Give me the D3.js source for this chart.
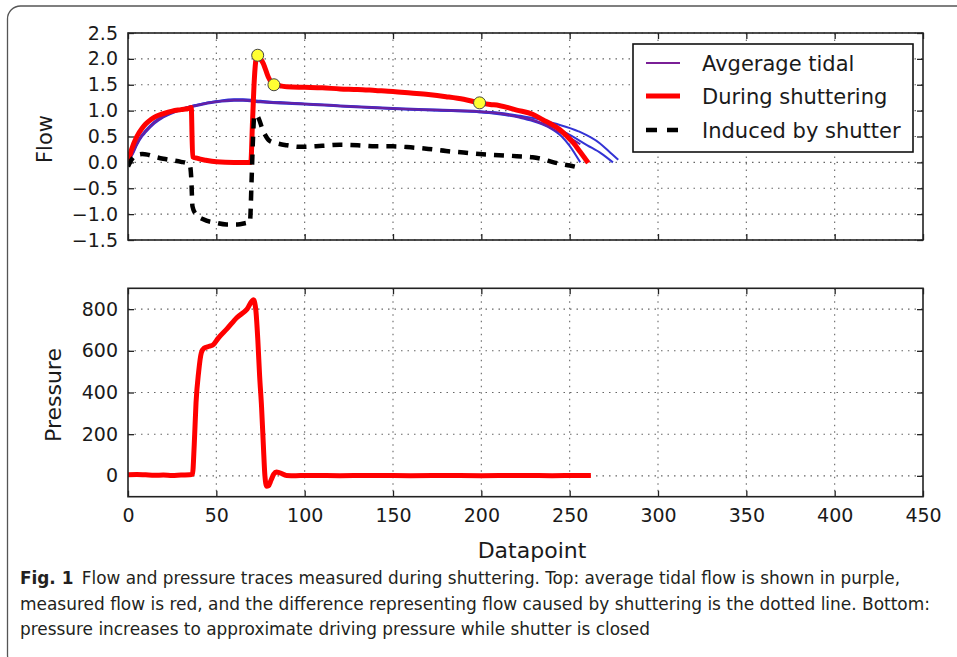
<!DOCTYPE html>
<html>
<head>
<meta charset="utf-8">
<script src="https://cdn.jsdelivr.net/npm/d3@7/dist/d3.min.js"></script>
<style>
  html, body { margin: 0; padding: 0; background: #fff; }
  svg { display: block; }
</style>
</head>
<body>
<svg id="chart" width="957" height="657"></svg>
<script>
// ---------------- DATA ----------------
const xTicks = [0, 50, 100, 150, 200, 250, 300, 350, 400, 450];
const flowTicks = [-1.5, -1.0, -0.5, 0.0, 0.5, 1.0, 1.5, 2.0, 2.5];
const pressureTicks = [0, 200, 400, 600, 800];

const legendLabels = ["Avgerage tidal", "During shuttering", "Induced by shutter"];

// average tidal flow (purple)
const tidalAvg = [[0,0.0],[3,0.2],[5,0.35],[8,0.52],[10,0.6],[15,0.77],[20,0.88],[25,0.96],[30,1.02],[35,1.07],[40,1.11],[50,1.17],[60,1.2],[65,1.2],[75,1.17],[86,1.15],[100,1.13],[120,1.09],[150,1.04],[175,1.01],[199,0.98],[210,0.95],[222,0.87],[229,0.82],[235,0.74],[242,0.62],[250,0.48],[256,0.35]];
// individual tidal breaths (blue)
const tidal1 = [[0,0.0],[3,0.22],[5,0.37],[8,0.54],[10,0.62],[15,0.79],[20,0.9],[25,0.97],[30,1.03],[35,1.08],[40,1.12],[50,1.18],[60,1.21],[65,1.21],[75,1.18],[86,1.16],[100,1.13],[120,1.09],[150,1.04],[175,1.0],[199,0.97],[210,0.93],[222,0.86],[229,0.8],[238,0.68],[245.5,0.5],[250,0.32],[256,0.0]];
const tidal2 = [[0,0.0],[3,0.18],[5,0.33],[8,0.5],[10,0.58],[15,0.75],[20,0.87],[25,0.95],[30,1.01],[35,1.06],[40,1.1],[50,1.16],[60,1.19],[65,1.19],[75,1.16],[86,1.14],[100,1.12],[120,1.08],[150,1.03],[175,1.0],[199,0.97],[210,0.94],[222,0.88],[235,0.75],[248,0.57],[260,0.33],[268,0.17],[274.5,0.0]];
const tidal3 = [[0,0.0],[3,0.21],[5,0.36],[8,0.53],[10,0.61],[15,0.78],[20,0.89],[25,0.97],[30,1.03],[35,1.08],[40,1.12],[50,1.18],[60,1.22],[65,1.22],[75,1.19],[86,1.16],[100,1.14],[120,1.1],[150,1.05],[175,1.02],[199,0.99],[210,0.96],[222,0.9],[232,0.84],[241.7,0.75],[255,0.6],[267,0.37],[272,0.22],[277.5,0.05]];
// measured flow during shuttering (red)
const shutterFlow = [[0,0.0],[2,0.25],[5,0.5],[8,0.66],[10,0.74],[13,0.83],[16,0.89],[20,0.94],[25,0.99],[30,1.02],[35,1.05],[35.8,1.06],[36.6,0.11],[39,0.08],[44,0.04],[50,0.01],[60,0.0],[69.5,0.0],[70.5,0.8],[71.5,1.6],[72.5,2.0],[73.4,2.07],[75,2.0],[76.6,1.91],[79.4,1.65],[82.6,1.5],[86,1.48],[90,1.46],[100,1.45],[110,1.44],[120,1.42],[130,1.41],[140,1.39],[150,1.37],[160,1.34],[170,1.31],[180,1.27],[190,1.22],[199,1.15],[205,1.12],[210,1.1],[220,1.01],[229,0.93],[235,0.82],[240,0.73],[244.5,0.63],[248,0.52],[252,0.38],[256,0.2],[260.5,-0.01]];
// difference: flow induced by the shutter (black dashed)
const inducedFlow = [[0,-0.08],[2,0.05],[5,0.14],[8,0.16],[11,0.15],[15,0.11],[20,0.07],[25,0.04],[30,0.01],[33,-0.01],[35,-0.05],[35.8,-0.3],[36.5,-0.85],[38,-0.98],[42.6,-1.1],[50,-1.17],[55.8,-1.2],[62,-1.2],[67.2,-1.17],[69,-1.16],[70,-0.3],[70.8,0.5],[71.5,0.91],[73,0.9],[76.7,0.59],[80,0.42],[84.2,0.37],[90,0.33],[97.4,0.3],[110,0.32],[120,0.34],[130,0.33],[140,0.31],[150,0.31],[160,0.29],[170,0.26],[180,0.22],[190,0.19],[199,0.16],[210,0.14],[220,0.12],[229,0.1],[235,0.06],[240,0.01],[245,-0.03],[250,-0.06],[255,-0.1]];
// highlighted points on the shuttering trace
const markerPoints = [[73.4,2.07],[82.6,1.5],[199,1.15]];
// pressure during shuttering
const pressure = [[0,5],[5,7],[10,5],[15,3],[20,4],[25,2],[30,4],[35,5],[36.5,8],[37.5,150],[38.5,350],[40,500],[41.5,590],[43,612],[46,622],[48.3,630],[51,660],[56,705],[61.7,760],[67.4,800],[71,845],[72.3,800],[73.5,650],[74.5,480],[75.6,330],[76.6,150],[77.5,0],[78.5,-50],[79.5,-48],[81,-20],[82.5,8],[84,18],[86,14],[89.7,2],[95,1],[100,2],[120,1],[140,2],[160,1],[180,2],[200,1],[220,2],[240,1],[262,2]];

// ---------------- LAYOUT ----------------
const svg = d3.select("#chart");
const FONT = "'DejaVu Sans', sans-serif";
const X0 = 128, X1 = 923;
const topP = {y0: 33, y1: 240};
const botP = {y0: 288.3, y1: 496.7};

const x = d3.scaleLinear().domain([0, 450]).range([X0, X1]);
const yFlow = d3.scaleLinear().domain([-1.5, 2.5]).range([topP.y1, topP.y0]);
const yP = d3.scaleLinear().domain([-100, 900]).range([botP.y1, botP.y0]);

// outer rounded border
svg.append("rect").attr("x", 7.5).attr("y", 6).attr("width", 1000).attr("height", 662)
  .attr("rx", 13).attr("fill", "none").attr("stroke", "#555").attr("stroke-width", 1.3);

function panel(yScale, yTicks, yFmt, y0, y1, showX, clipId) {
  const g = svg.append("g");
  g.append("g").selectAll("line").data(xTicks.slice(1, -1)).join("line")
    .attr("x1", d => x(d)).attr("x2", d => x(d)).attr("y1", y0).attr("y2", y1)
    .attr("stroke", "#666").attr("stroke-width", 1.1).attr("stroke-dasharray", "1.5,5");
  g.append("g").selectAll("line").data(yTicks).join("line")
    .attr("x1", X0).attr("x2", X1).attr("y1", d => yScale(d)).attr("y2", d => yScale(d))
    .attr("stroke", "#666").attr("stroke-width", 1.1).attr("stroke-dasharray", "1.5,5");
  const tickLen = 6;
  const axL = g.append("g").attr("transform", `translate(${X0},0)`)
    .call(d3.axisLeft(yScale).tickValues(yTicks).tickFormat(yFmt).tickSizeInner(-tickLen).tickSizeOuter(0).tickPadding(10));
  const axR = g.append("g").attr("transform", `translate(${X1},0)`)
    .call(d3.axisRight(yScale).tickValues(yTicks).tickFormat("").tickSizeInner(-tickLen).tickSizeOuter(0));
  const axT = g.append("g").attr("transform", `translate(0,${y0})`)
    .call(d3.axisTop(x).tickValues(xTicks).tickFormat("").tickSizeInner(-tickLen).tickSizeOuter(0));
  const axB = g.append("g").attr("transform", `translate(0,${y1})`)
    .call(d3.axisBottom(x).tickValues(xTicks).tickFormat(showX ? d3.format("d") : "").tickSizeInner(-tickLen).tickSizeOuter(0).tickPadding(12));
  [axL, axR, axT, axB].forEach(a => {
    a.select(".domain").remove();
    a.selectAll(".tick line").attr("stroke", "#222").attr("stroke-width", 1.3);
    a.selectAll("text").attr("font-family", FONT).attr("font-size", 19).attr("fill", "#1a1a1a");
  });
  svg.append("clipPath").attr("id", clipId).append("rect")
    .attr("x", X0).attr("y", y0).attr("width", X1 - X0).attr("height", y1 - y0);
  return g;
}

function frame(y0, y1) {
  svg.append("rect").attr("x", X0).attr("y", y0).attr("width", X1 - X0).attr("height", y1 - y0)
    .attr("fill", "none").attr("stroke", "#222").attr("stroke-width", 1.6);
}

const minusFmt = d => d3.format(".1f")(d).replace("-", "\u2212");

// ---------- top panel ----------
panel(yFlow, flowTicks, minusFmt, topP.y0, topP.y1, false, "clipTop");
const lineF = d3.line().x(d => x(d[0])).y(d => yFlow(d[1])).curve(d3.curveMonotoneX);
const gTop = svg.append("g").attr("clip-path", "url(#clipTop)");

[tidal1, tidal2, tidal3].forEach(s => {
  gTop.append("path").datum(s).attr("d", lineF).attr("fill", "none")
    .attr("stroke", "#3333d4").attr("stroke-width", 2);
});
gTop.append("path").datum(tidalAvg).attr("d", lineF).attr("fill", "none")
  .attr("stroke", "#6a1fa0").attr("stroke-width", 2);
gTop.append("path").datum(shutterFlow).attr("d", lineF).attr("fill", "none")
  .attr("stroke", "#ff0000").attr("stroke-width", 5).attr("stroke-linejoin", "round");
gTop.append("path").datum(inducedFlow).attr("d", lineF).attr("fill", "none")
  .attr("stroke", "#000").attr("stroke-width", 4.5).attr("stroke-dasharray", "10,8");
gTop.selectAll("circle.m").data(markerPoints).join("circle").attr("class", "m")
  .attr("cx", d => x(d[0])).attr("cy", d => yFlow(d[1])).attr("r", 6)
  .attr("fill", "#ffff33").attr("stroke", "#444").attr("stroke-width", 1);
frame(topP.y0, topP.y1);

// legend
const lg = svg.append("g");
lg.append("rect").attr("x", 633).attr("y", 44).attr("width", 280).attr("height", 108)
  .attr("fill", "#fff").attr("stroke", "#111").attr("stroke-width", 1.6);
const legStyles = [
  {stroke: "#7a1f96", w: 1.8, dash: null},
  {stroke: "#ff0000", w: 5, dash: null},
  {stroke: "#000", w: 4.5, dash: "11,10"}
];
const legY = [63, 96, 130];
legendLabels.forEach((lab, i) => {
  const l = lg.append("line").attr("x1", 646).attr("x2", 680).attr("y1", legY[i]).attr("y2", legY[i])
    .attr("stroke", legStyles[i].stroke).attr("stroke-width", legStyles[i].w);
  if (legStyles[i].dash) l.attr("stroke-dasharray", legStyles[i].dash);
  lg.append("text").attr("x", 702).attr("y", legY[i]).attr("dy", "0.36em")
    .attr("font-family", FONT).attr("font-size", 21).attr("fill", "#1a1a1a").text(lab);
});

// ---------- bottom panel ----------
panel(yP, pressureTicks, d3.format("d"), botP.y0, botP.y1, true, "clipBot");
const lineP = d3.line().x(d => x(d[0])).y(d => yP(d[1])).curve(d3.curveMonotoneX);
svg.append("g").attr("clip-path", "url(#clipBot)").append("path").datum(pressure).attr("d", lineP)
  .attr("fill", "none").attr("stroke", "#ff0000").attr("stroke-width", 5).attr("stroke-linejoin", "round");
frame(botP.y0, botP.y1);

// axis titles
svg.append("text").attr("transform", "translate(52,139) rotate(-90)").attr("text-anchor", "middle")
  .attr("font-family", FONT).attr("font-size", 21).attr("fill", "#1a1a1a").text("Flow");
svg.append("text").attr("transform", "translate(61,395) rotate(-90)").attr("text-anchor", "middle")
  .attr("font-family", FONT).attr("font-size", 22).attr("fill", "#1a1a1a").text("Pressure");
svg.append("text").attr("x", 532).attr("y", 558).attr("text-anchor", "middle")
  .attr("font-family", FONT).attr("font-size", 22).attr("fill", "#1a1a1a").text("Datapoint");

// caption
const CAP = "'Liberation Sans Narrow', 'DejaVu Sans Condensed', 'Open Sans', sans-serif";
const capLines = [
  {bold: "Fig. 1", text: "\u2002Flow and pressure traces measured during shuttering. Top: average tidal flow is shown in purple,", len: 880, y: 584},
  {bold: null, text: "measured flow is red, and the difference representing flow caused by shuttering is the dotted line. Bottom:", len: 910, y: 610},
  {bold: null, text: "pressure increases to approximate driving pressure while shutter is closed", len: 630, y: 635}
];
capLines.forEach(c => {
  const t = svg.append("text").attr("x", 20).attr("y", c.y).attr("font-family", CAP)
    .attr("font-size", 18.5).attr("fill", "#231f20")
    .attr("textLength", c.len).attr("lengthAdjust", "spacingAndGlyphs");
  if (c.bold) t.append("tspan").attr("font-weight", "bold").text(c.bold);
  t.append("tspan").text(c.text);
});
</script>
</body>
</html>
